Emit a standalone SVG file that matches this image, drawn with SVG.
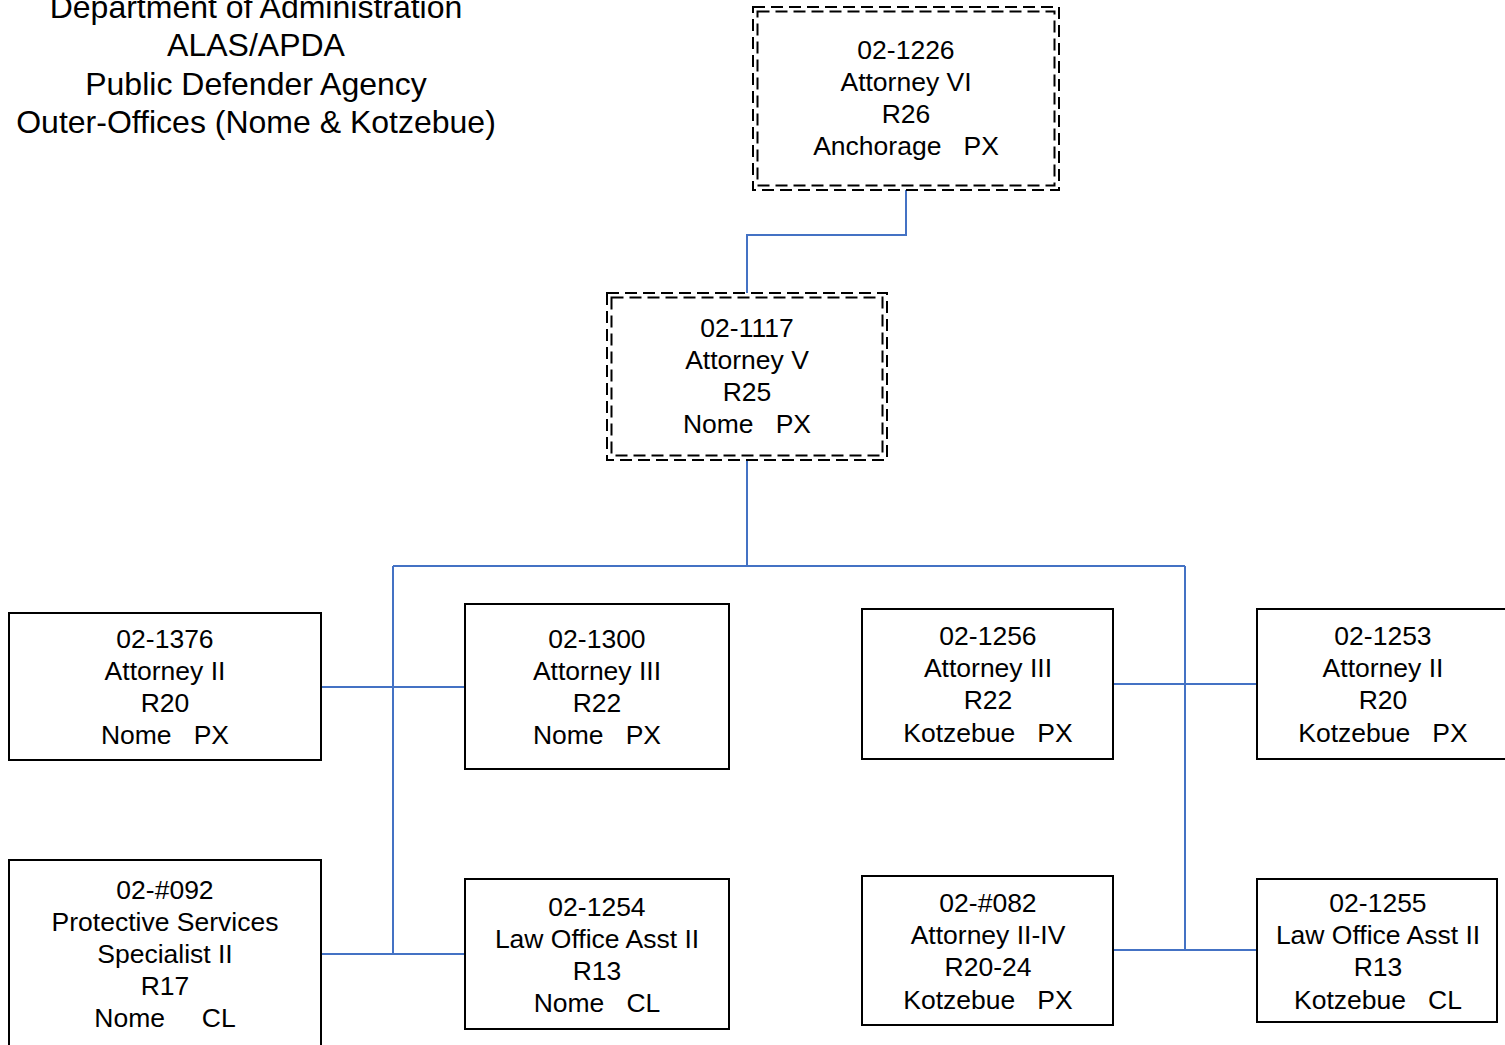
<svg xmlns="http://www.w3.org/2000/svg" width="1505" height="1045" viewBox="0 0 1505 1045">
<style>
text{font-family:"Liberation Sans",Arial,sans-serif;fill:#000;text-anchor:middle;white-space:pre}
.t{font-size:32px}
.n{font-size:26.5px}
.box{fill:#fff;stroke:#000;stroke-width:2}
.dash{fill:none;stroke:#000;stroke-width:2;stroke-dasharray:12 6}
.c{fill:none;stroke:#4472C4;stroke-width:2}
</style>
<rect width="1505" height="1045" fill="#fff"/>
<g id="title">
<text class="t" x="256" y="18">Department of Administration</text>
<text class="t" x="256" y="56">ALAS/APDA</text>
<text class="t" x="256" y="95">Public Defender Agency</text>
<text class="t" x="256" y="133">Outer-Offices (Nome &amp; Kotzebue)</text>
</g>
<g id="connectors">
<polyline class="c" points="906,190 906,235 747,235 747,293"/>
<polyline class="c" points="747,460 747,566"/>
<polyline class="c" points="393,566 1185,566"/>
<polyline class="c" points="393,566 393,954"/>
<polyline class="c" points="1185,566 1185,950"/>
<polyline class="c" points="321,687 465,687"/>
<polyline class="c" points="321,954 465,954"/>
<polyline class="c" points="1113,684 1257,684"/>
<polyline class="c" points="1113,950 1257,950"/>
</g>
<g id="n1226">
<rect x="753" y="7" width="306" height="183" fill="#fff"/>
<rect class="dash" x="753" y="7" width="306" height="183"/>
<rect class="dash" x="757.500" y="11.500" width="297" height="174"/>
<text class="n" x="906" y="59">02-1226</text>
<text class="n" x="906" y="91">Attorney VI</text>
<text class="n" x="906" y="123">R26</text>
<text class="n" x="906" y="155">Anchorage   PX</text>
</g>
<g id="n1117">
<rect x="607" y="293" width="280" height="167" fill="#fff"/>
<rect class="dash" x="607" y="293" width="280" height="167"/>
<rect class="dash" x="611.500" y="297.500" width="271" height="158"/>
<text class="n" x="747" y="337">02-1117</text>
<text class="n" x="747" y="369">Attorney V</text>
<text class="n" x="747" y="401">R25</text>
<text class="n" x="747" y="433">Nome   PX</text>
</g>
<g id="n1376">
<rect class="box" x="9" y="613" width="312" height="147"/>
<text class="n" x="165" y="648">02-1376</text>
<text class="n" x="165" y="680">Attorney II</text>
<text class="n" x="165" y="712">R20</text>
<text class="n" x="165" y="744">Nome   PX</text>
</g>
<g id="n1300">
<rect class="box" x="465" y="604" width="264" height="165"/>
<text class="n" x="597" y="648">02-1300</text>
<text class="n" x="597" y="680">Attorney III</text>
<text class="n" x="597" y="712">R22</text>
<text class="n" x="597" y="744">Nome   PX</text>
</g>
<g id="n1256">
<rect class="box" x="862" y="609" width="251" height="150"/>
<text class="n" x="988" y="645">02-1256</text>
<text class="n" x="988" y="677">Attorney III</text>
<text class="n" x="988" y="709">R22</text>
<text class="n" x="988" y="742">Kotzebue   PX</text>
</g>
<g id="n1253">
<rect class="box" x="1257" y="609" width="252" height="150"/>
<text class="n" x="1383" y="645">02-1253</text>
<text class="n" x="1383" y="677">Attorney II</text>
<text class="n" x="1383" y="709">R20</text>
<text class="n" x="1383" y="742">Kotzebue   PX</text>
</g>
<g id="n092">
<rect class="box" x="9" y="860" width="312" height="190"/>
<text class="n" x="165" y="899">02-#092</text>
<text class="n" x="165" y="931">Protective Services</text>
<text class="n" x="165" y="963">Specialist II</text>
<text class="n" x="165" y="995">R17</text>
<text class="n" x="165" y="1027">Nome     CL</text>
</g>
<g id="n1254">
<rect class="box" x="465" y="879" width="264" height="150"/>
<text class="n" x="597" y="916">02-1254</text>
<text class="n" x="597" y="948">Law Office Asst II</text>
<text class="n" x="597" y="980">R13</text>
<text class="n" x="597" y="1012">Nome   CL</text>
</g>
<g id="n082">
<rect class="box" x="862" y="876" width="251" height="149"/>
<text class="n" x="988" y="912">02-#082</text>
<text class="n" x="988" y="944">Attorney II-IV</text>
<text class="n" x="988" y="976">R20-24</text>
<text class="n" x="988" y="1009">Kotzebue   PX</text>
</g>
<g id="n1255">
<rect class="box" x="1257" y="879" width="240" height="143"/>
<text class="n" x="1378" y="912">02-1255</text>
<text class="n" x="1378" y="944">Law Office Asst II</text>
<text class="n" x="1378" y="976">R13</text>
<text class="n" x="1378" y="1009">Kotzebue   CL</text>
</g>
</svg>
